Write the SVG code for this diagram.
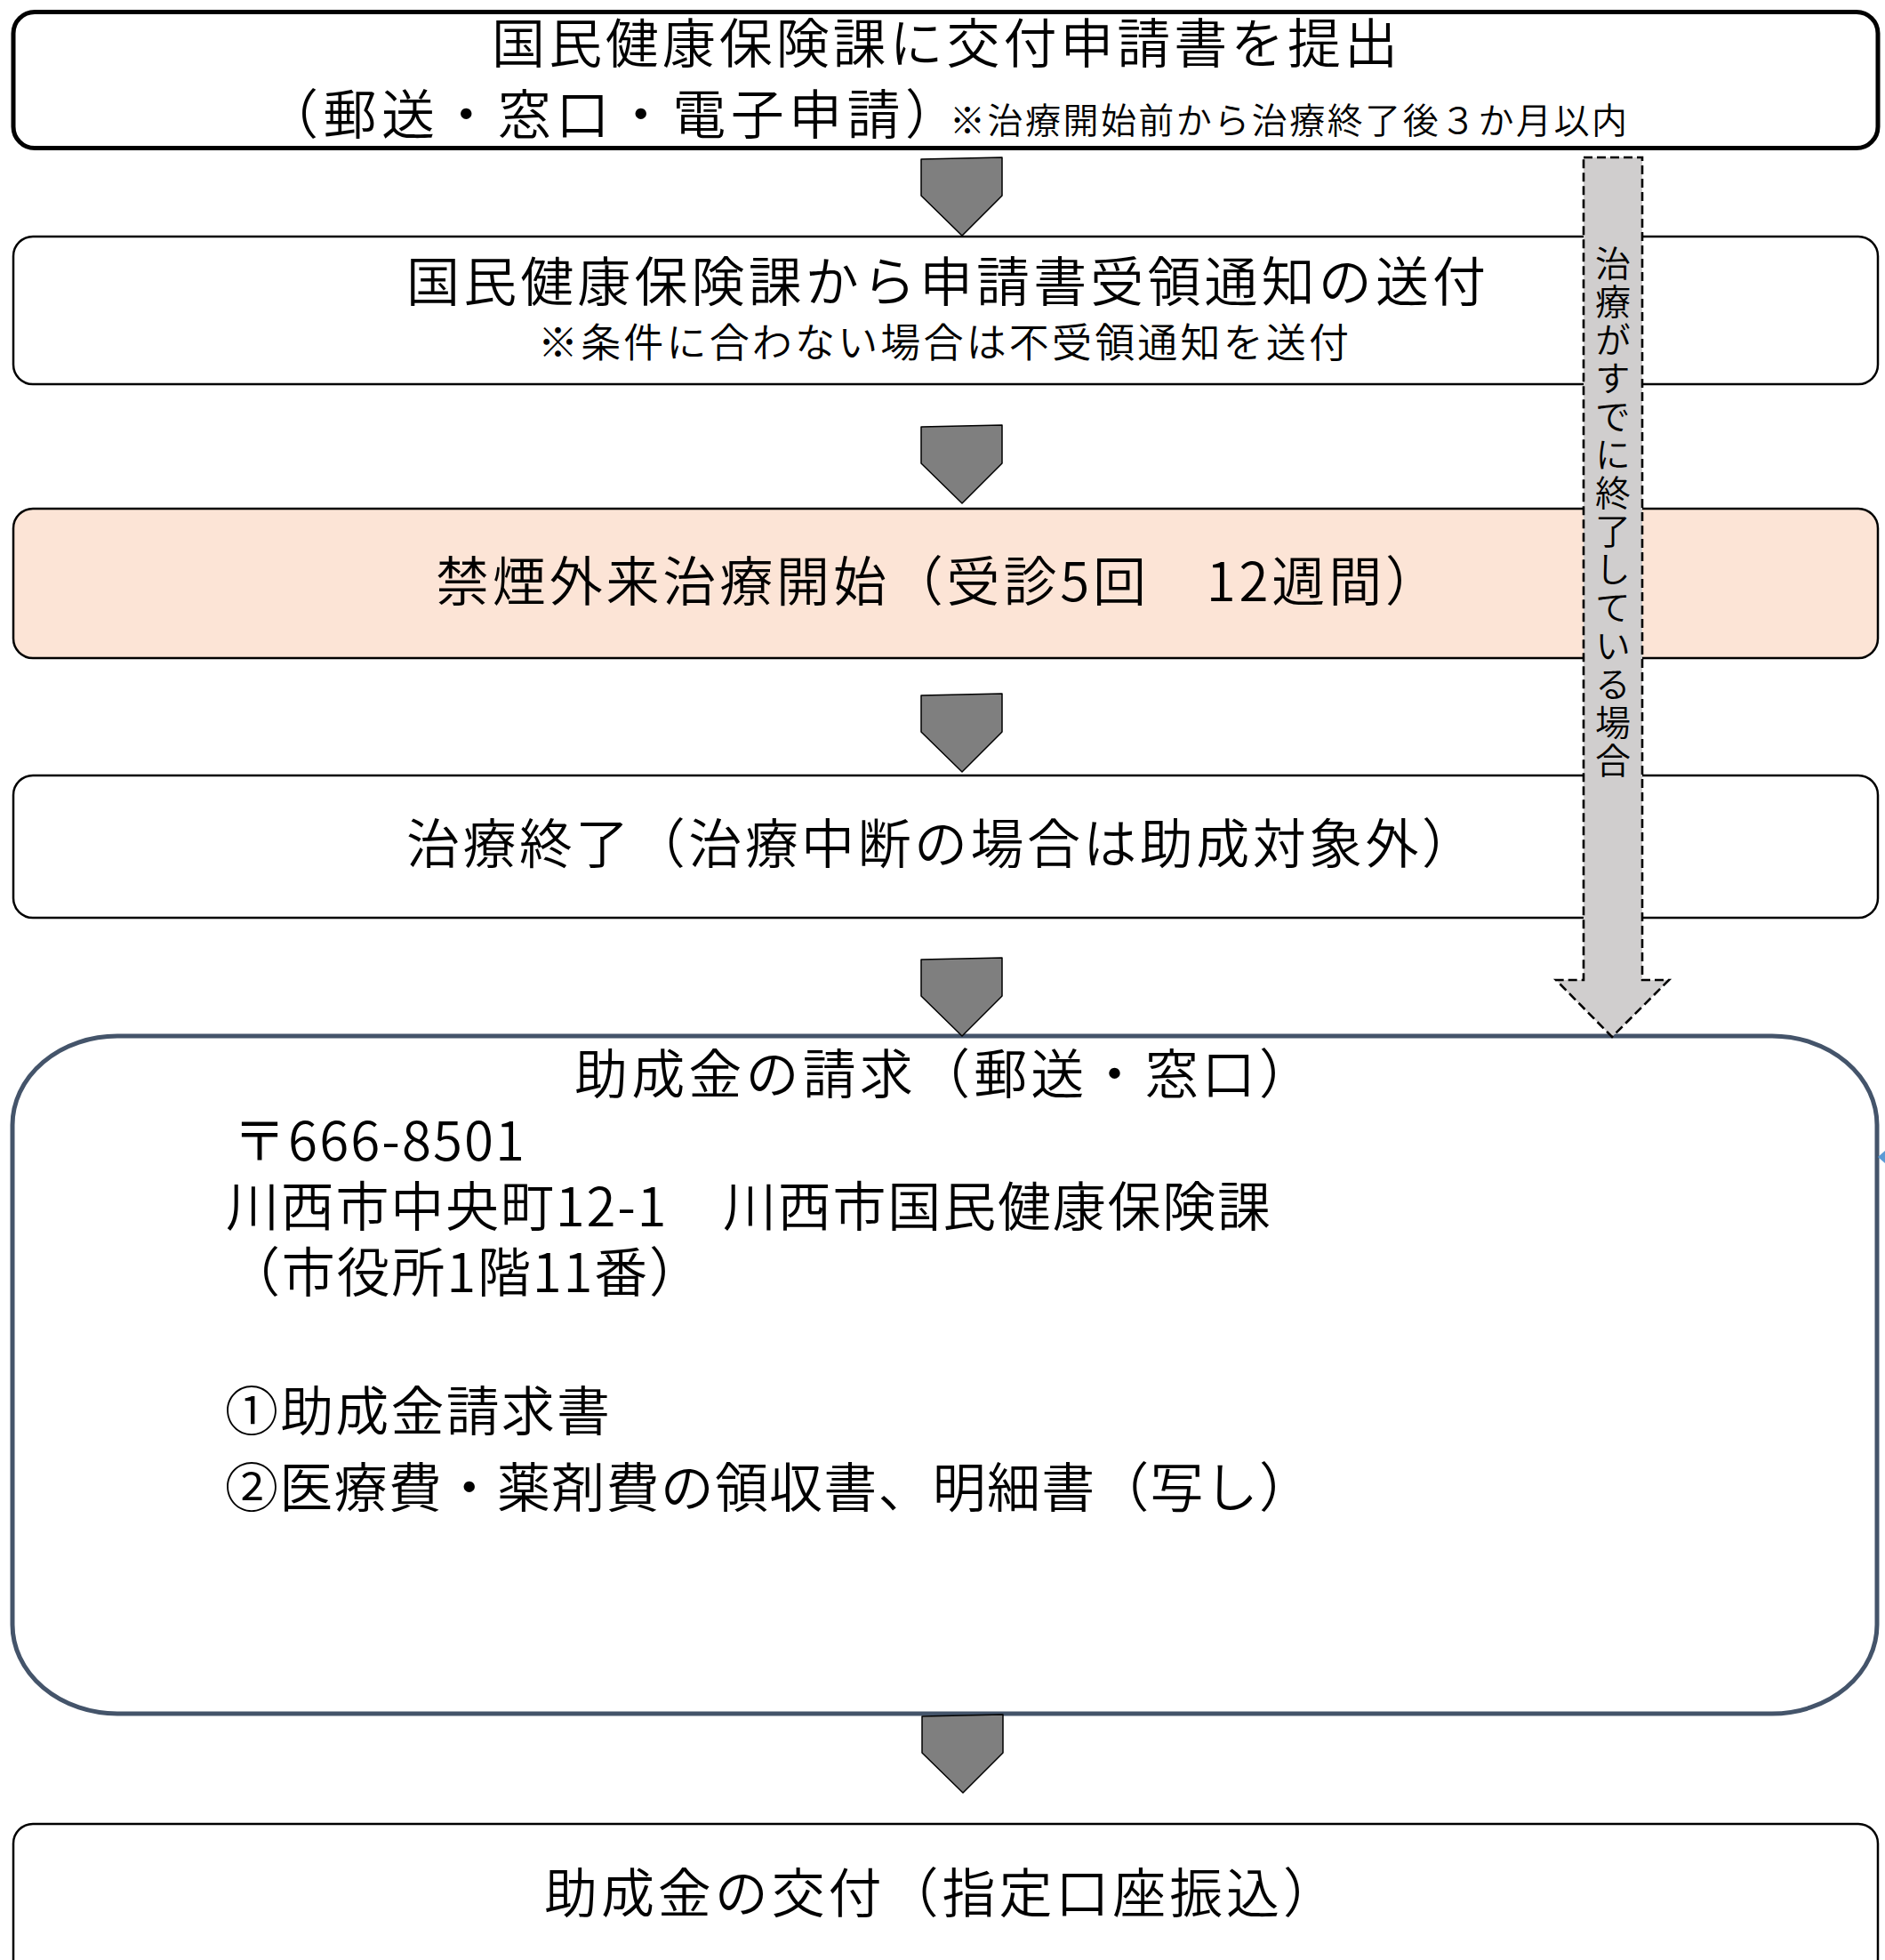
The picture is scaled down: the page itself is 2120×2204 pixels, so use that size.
<svg xmlns="http://www.w3.org/2000/svg" xmlns:xlink="http://www.w3.org/1999/xlink" width="2120" height="2204" viewBox="0 0 2120 2204">
<defs>
<style>
.t{font-family:"Noto Sans CJK JP","Noto Sans",sans-serif;fill:#000;font-weight:350}
.f60{font-size:60px}
.f45{font-size:45px}
.f40{font-size:40px}
.box{fill:#fff;stroke:#000;stroke-width:2.5}
.blk{fill:#7F7F7F;stroke:#000;stroke-width:1.5;stroke-linejoin:round}
</style>
<path id="arr" d="M0,2 L91,0 L91,43 L46,88 L0,43 Z"/>
</defs>
<rect x="0" y="0" width="2120" height="2204" fill="#fff"/>

<g id="node1">
<rect x="15" y="13.5" width="2097" height="153" rx="24" ry="24" fill="#fff" stroke="#000" stroke-width="5"/>
<text class="t f60" x="553" y="71" textLength="1019">国民健康保険課に交付申請書を提出</text>
<text class="t f60" x="298" y="151" textLength="780">（郵送・窓口・電子申請）</text>
<text class="t f40" x="1068" y="150" textLength="762">※治療開始前から治療終了後３か月以内</text>
</g>

<g id="node2">
<rect class="box" x="15" y="266" width="2097" height="166" rx="22" ry="22"/>
<text class="t f60" x="457" y="339" textLength="1214">国民健康保険課から申請書受領通知の送付</text>
<text class="t f45" x="605" y="402" textLength="912">※条件に合わない場合は不受領通知を送付</text>
</g>

<g id="node3">
<rect class="box" x="15" y="572" width="2097" height="168" rx="22" ry="22" style="fill:#FCE4D6"/>
<text class="t f60" x="490" y="676" textLength="1128">禁煙外来治療開始（受診5回　12週間）</text>
</g>

<g id="node4">
<rect class="box" x="15" y="872" width="2097" height="160" rx="22" ry="22"/>
<text class="t f60" x="457" y="971" textLength="1202">治療終了（治療中断の場合は助成対象外）</text>
</g>

<g id="node5">
<rect x="14" y="1165" width="2097" height="762" rx="118" ry="100" fill="#fff" stroke="#44546A" stroke-width="5"/>
<text class="t f60" x="646" y="1230" textLength="830">助成金の請求（郵送・窓口）</text>
<text class="t f60"><tspan x="262" y="1305" textLength="328">〒666-8501</tspan><tspan x="254" y="1379" textLength="1175">川西市中央町12-1　川西市国民健康保険課</tspan><tspan x="255" y="1453" textLength="535">（市役所1階11番）</tspan></text>
<text class="t f60" x="253" y="1609" textLength="433">①助成金請求書</text>
<text class="t f60" x="253" y="1695" textLength="1223">②医療費・薬剤費の領収書、明細書（写し）</text>
<polygon points="2112,1301 2120,1294 2120,1308" fill="#5B9BD5"/>
</g>

<g id="node6">
<rect class="box" x="15" y="2051" width="2097" height="175" rx="22" ry="22"/>
<text class="t f60" x="612" y="2151" textLength="891">助成金の交付（指定口座振込）</text>
</g>

<g id="connectors">
<use xlink:href="#arr" href="#arr" class="blk" x="1036" y="177"/>
<use xlink:href="#arr" href="#arr" class="blk" x="1036" y="478"/>
<use xlink:href="#arr" href="#arr" class="blk" x="1036" y="780"/>
<use xlink:href="#arr" href="#arr" class="blk" x="1036" y="1077"/>
<use xlink:href="#arr" href="#arr" class="blk" x="1037" y="1928"/>
<g id="side-arrow">
<polygon points="1781,177 1847,177 1847,1102 1877,1102 1813,1166 1750,1102 1781,1102" fill="#D0CECE" stroke="#000" stroke-width="2.6" stroke-dasharray="10,5"/>
<text class="t f40" x="1814" y="276" style="writing-mode:vertical-rl;letter-spacing:3px">治療がすでに終了している場合</text>
</g>
</g>
</svg>
